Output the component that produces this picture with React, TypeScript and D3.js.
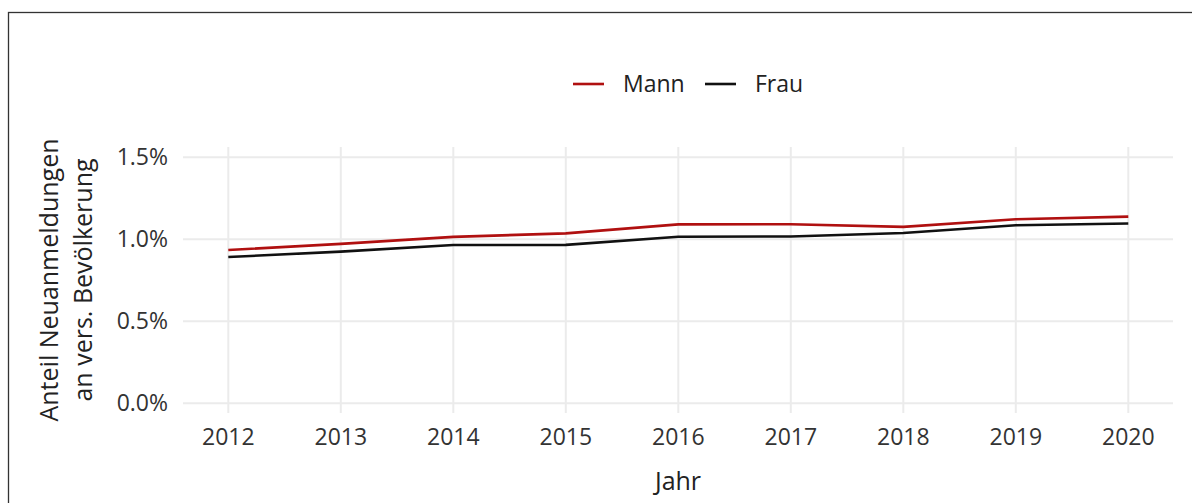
import React from "react";
import * as d3 from "d3";

const years = [2012, 2013, 2014, 2015, 2016, 2017, 2018, 2019, 2020];
const mann = [0.935, 0.972, 1.015, 1.036, 1.091, 1.092, 1.076, 1.122, 1.138];
const frau = [0.892, 0.925, 0.965, 0.966, 1.016, 1.017, 1.038, 1.086, 1.096];
const yTicks = [0, 0.5, 1.0, 1.5];
const seriesNames = ["Mann", "Frau"];
const seriesColors = ["#B01010", "#111111"];

const W = 1192;
const H = 503;
const FONT = "'Open Sans', 'Noto Sans', sans-serif";
const FS = 23;
const FT = 25;

export default function App() {
  const panel = { left: 183, right: 1173, top: 147, bottom: 413 };
  const x = d3.scaleLinear().domain([2012, 2020]).range([228.3, 1128.3]);
  const y = d3.scaleLinear().domain([0, 1.5]).range([403.3, 157.3]);
  const line = d3
    .line<number>()
    .x((_, i) => x(years[i]))
    .y((d) => y(d));
  const series = [mann, frau];
  const legendX = [573, 705];
  const legendY = 84;

  return (
    <svg
      width={W}
      height={H}
      style={{ position: "absolute", left: 0, top: 0, background: "#fff" }}
      fontFamily={FONT}
    >
      <rect x={0} y={0} width={W} height={H} fill="#fff" />
      <rect x={8.5} y={12.5} width={1300} height={700} fill="none" stroke="#333" strokeWidth={1.3} />
      {/* grid */}
      {yTicks.map((t) => (
        <line key={"h" + t} x1={panel.left} x2={panel.right} y1={y(t)} y2={y(t)} stroke="#EBEBEB" strokeWidth={2} />
      ))}
      {years.map((yr) => (
        <line key={"v" + yr} x1={x(yr)} x2={x(yr)} y1={panel.top} y2={panel.bottom} stroke="#EBEBEB" strokeWidth={2} />
      ))}
      {/* lines */}
      {series.map((s, i) => (
        <path key={seriesNames[i]} d={line(s) || ""} fill="none" stroke={seriesColors[i]} strokeWidth={2.6} />
      ))}
      {/* y tick labels */}
      {yTicks.map((t) => (
        <text key={"yl" + t} x={168} y={y(t)} dy="0.35em" textAnchor="end" fontSize={FS} fill="#333">
          {d3.format(".1f")(t) + "%"}
        </text>
      ))}
      {/* x tick labels */}
      {years.map((yr) => (
        <text key={"xl" + yr} x={x(yr)} y={445} textAnchor="middle" fontSize={FS} fill="#333">
          {yr}
        </text>
      ))}
      {/* axis titles */}
      <text x={678} y={490} textAnchor="middle" fontSize={FT} fill="#222">
        Jahr
      </text>
      <g transform="translate(49,280) rotate(-90)">
        <text x={0} y={0} dy="0.35em" textAnchor="middle" fontSize={FT} fill="#222">
          Anteil Neuanmeldungen
        </text>
        <text x={0} y={34} dy="0.35em" textAnchor="middle" fontSize={FT} fill="#222">
          an vers. Bevölkerung
        </text>
      </g>
      {/* legend */}
      {seriesNames.map((n, i) => (
        <g key={"lg" + n}>
          <line x1={legendX[i]} x2={legendX[i] + 31} y1={legendY} y2={legendY} stroke={seriesColors[i]} strokeWidth={2.6} />
          <text x={legendX[i] + 50} y={legendY} dy="0.35em" fontSize={FS} fill="#222">
            {n}
          </text>
        </g>
      ))}
    </svg>
  );
}
